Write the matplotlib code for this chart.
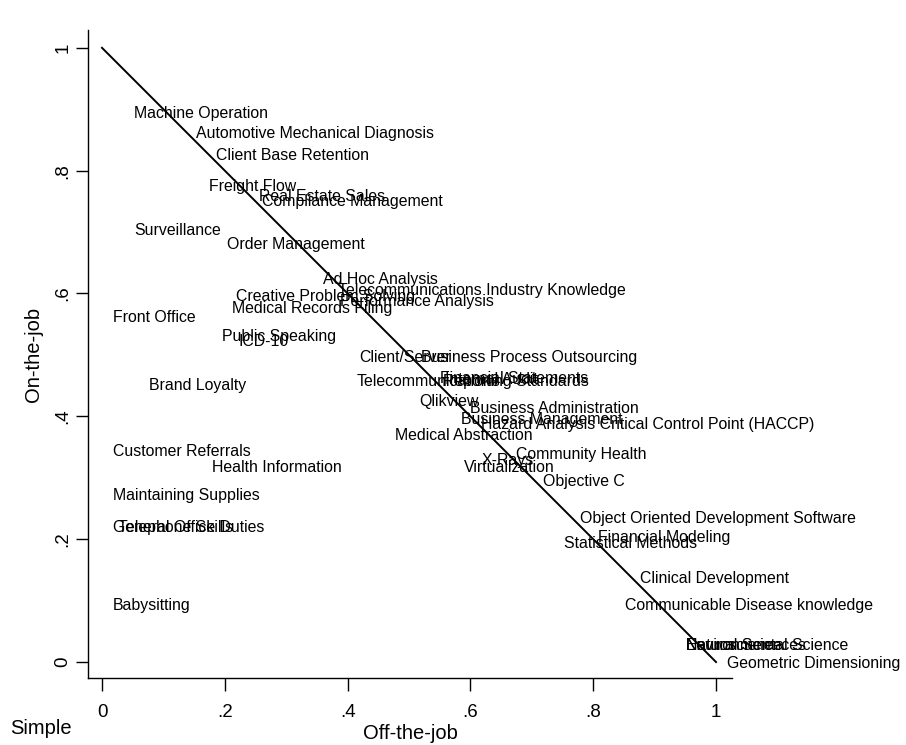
import matplotlib
matplotlib.use("Agg")
import matplotlib.pyplot as plt

plt.rcParams['font.family'] = ['Liberation Sans', 'DejaVu Sans']

labels = [
    "Machine Operation", "Automotive Mechanical Diagnosis", "Client Base Retention",
    "Freight Flow", "Real Estate Sales", "Compliance Management", "Surveillance",
    "Order Management", "Ad Hoc Analysis", "Telecommunications Industry Knowledge",
    "Creative Problem Solving", "Performance Analysis", "Medical Records Filing",
    "Front Office", "Public Speaking", "ICD-10", "Client/Server",
    "Business Process Outsourcing", "Telecommunications", "Financial Statements",
    "Reporting Standards", "Internal Audit", "Brand Loyalty", "Qlikview",
    "Business Administration", "Business Management",
    "Hazard Analysis Critical Control Point (HACCP)", "Medical Abstraction",
    "Customer Referrals", "Community Health", "X-Rays", "Virtualization",
    "Health Information", "Objective C", "Maintaining Supplies",
    "Object Oriented Development Software", "General Office Duties",
    "Telephone Skills", "Financial Modeling", "Statistical Methods",
    "Clinical Development", "Communicable Disease knowledge", "Babysitting",
    "Environmental Science", "Natural Sciences", "Neuroscience",
    "Geometric Dimensioning",
]
off_job = [
    0.034, 0.135, 0.168, 0.156, 0.238, 0.243, 0.034, 0.186, 0.342, 0.366,
    0.200, 0.370, 0.194, 0.000, 0.178, 0.204, 0.401, 0.502, 0.396, 0.533,
    0.537, 0.541, 0.059, 0.498, 0.581, 0.567, 0.599, 0.459, 0.000, 0.656,
    0.601, 0.572, 0.161, 0.700, 0.000, 0.761, 0.000, 0.008, 0.790, 0.735,
    0.858, 0.834, 0.000, 0.933, 0.933, 0.933, 1.000,
]
on_job = [
    0.894, 0.862, 0.827, 0.775, 0.759, 0.752, 0.704, 0.681, 0.625, 0.606,
    0.596, 0.588, 0.577, 0.562, 0.531, 0.523, 0.497, 0.497, 0.459, 0.464,
    0.458, 0.461, 0.451, 0.425, 0.414, 0.396, 0.389, 0.370, 0.345, 0.340,
    0.329, 0.318, 0.319, 0.296, 0.272, 0.236, 0.220, 0.220, 0.205, 0.195,
    0.138, 0.094, 0.094, 0.028, 0.028, 0.028, 0.000,
]
line_x = [0, 1]
line_y = [1, 0]
xticks = [0, 0.2, 0.4, 0.6, 0.8, 1.0]
xticklabels = ["0", ".2", ".4", ".6", ".8", "1"]
yticks = [0, 0.2, 0.4, 0.6, 0.8, 1.0]
yticklabels = ["0", ".2", ".4", ".6", ".8", "1"]

fig = plt.figure(figsize=(9.06, 7.45), dpi=100)
ax = fig.add_axes([88/906, 67/745, (732-88)/906, (678-30)/745])
ax.set_xlim(-0.0228, 1.026)
ax.set_ylim(-0.026, 1.029)

ax.plot(line_x, line_y, color="black", lw=1.4)
for lab, x, y in zip(labels, off_job, on_job):
    ax.annotate(lab, (x, y), xytext=(7.9, -0.7), textcoords="offset points",
                ha="left", va="center", fontsize=11.4, color="black")

for s in ["top", "right"]:
    ax.spines[s].set_visible(False)
for s in ["left", "bottom"]:
    ax.spines[s].set_linewidth(1.0)

ax.set_xticks(xticks)
ax.set_xticklabels(xticklabels, fontsize=13.5)
ax.set_yticks(yticks)
ax.set_yticklabels(yticklabels, fontsize=13.5, rotation=90, va="center")
ax.tick_params(axis="both", length=9, width=1.0)
ax.tick_params(axis="x", pad=10)
ax.tick_params(axis="y", pad=3)
ax.set_xlabel("Off-the-job", fontsize=14.5, labelpad=2)
ax.set_ylabel("On-the-job", fontsize=14.5, labelpad=8)
fig.text(10/906, 1 - 729/745, "Simple", ha="left", va="center", fontsize=14.5)

fig.savefig("out.png", dpi=100, facecolor="white")
